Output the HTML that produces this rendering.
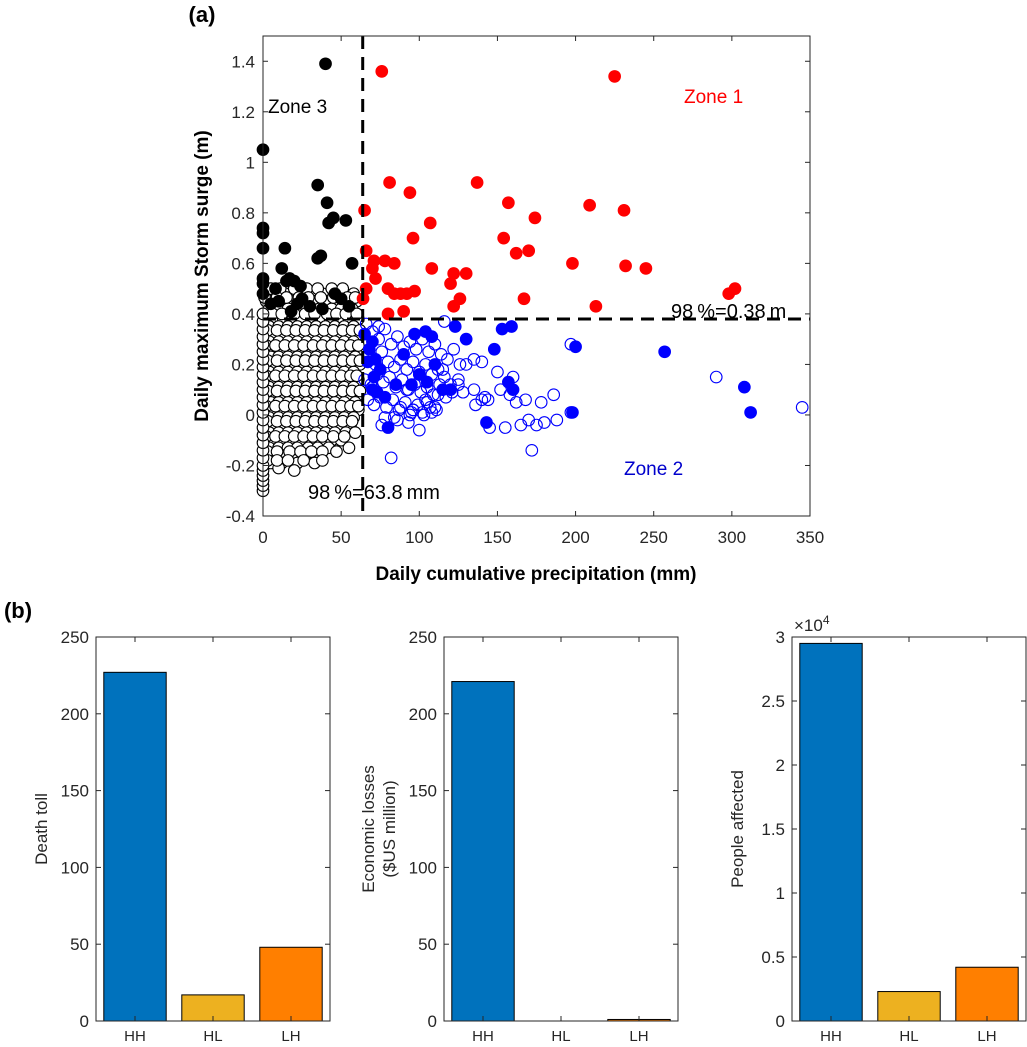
<!DOCTYPE html>
<html><head><meta charset="utf-8"><style>
body{margin:0;background:#fff;}
svg{display:block;font-family:"Liberation Sans",Arial,sans-serif;}
</style></head><body>
<svg id="fig" width="1027" height="1047" viewBox="0 0 1027 1047" xmlns="http://www.w3.org/2000/svg">
<g id="pa"></g>
<g id="pb"></g>
</svg>
<script>
// ---- scatter data ----
const xTicks=[0,50,100,150,200,250,300,350];
const yTicks=[-0.4,-0.2,0,0.2,0.4,0.6,0.8,1,1.2,1.4];
const yTickLabels=['-0.4','-0.2','0','0.2','0.4','0.6','0.8','1','1.2','1.4'];
const precipThreshold=63.8;
const surgeThreshold=0.38;
const redX=[76,225,65,81,94,107,137,157,174,209,231,96,154,170,162,66,71,70,78,84,72,66,80,88,84,92,97,108,122,130,120,198,232,245,126,167,213,122,298,302,80,90,64];
const redY=[1.36,1.34,0.81,0.92,0.88,0.76,0.92,0.84,0.78,0.83,0.81,0.70,0.70,0.65,0.64,0.65,0.61,0.58,0.61,0.60,0.54,0.50,0.50,0.48,0.48,0.48,0.49,0.58,0.56,0.56,0.52,0.60,0.59,0.58,0.46,0.46,0.43,0.43,0.48,0.50,0.40,0.41,0.46];
const blackX=[40,0,0,0,0,35,41,42,45,53,14,0,35,37,15,57,12,17,20,24,0,25,50,55,46,5,10,30,18,0,8,22,38];
const blackY=[1.39,1.05,0.74,0.72,0.66,0.91,0.84,0.76,0.78,0.77,0.66,0.54,0.62,0.63,0.53,0.60,0.58,0.54,0.53,0.51,0.48,0.46,0.46,0.43,0.48,0.44,0.45,0.43,0.41,0.52,0.50,0.44,0.42];
const blueFX=[65,68,70,72,75,70,73,78,90,97,104,108,123,130,153,159,100,105,110,115,120,148,200,257,157,160,80,143,198,308,312,85,95,67,71];
const blueFY=[0.32,0.26,0.29,0.22,0.18,0.10,0.09,0.07,0.24,0.32,0.33,0.31,0.35,0.30,0.34,0.35,0.16,0.13,0.20,0.10,0.10,0.26,0.27,0.25,0.13,0.10,-0.05,-0.03,0.01,0.11,0.01,0.12,0.12,0.21,0.15];
const blueOX=[172,197,290,345,82,197,186,178,168,165,
155,145,140,135,130,125,135,150,140,175,
188,100,93,110,105,170,162,66,70,74,
78,82,86,90,94,98,102,106,110,114,
118,122,126,68,72,76,80,84,88,92,
96,100,104,108,112,116,65,69,73,77,
81,85,89,93,97,101,105,109,113,117,
121,67,71,75,79,83,87,91,95,99,
103,107,111,78,86,94,102,88,96,104,
112,120,128,136,144,152,160,115,125,142,
158,180,76,84,92,108,116,70,74,96];
const blueOY=[-0.14,0.28,0.15,0.03,-0.17,0.01,0.08,0.05,0.06,-0.04,
-0.05,-0.05,0.06,0.10,0.20,0.14,0.22,0.17,0.21,-0.04,
-0.02,-0.06,-0.03,0.03,0.05,-0.02,0.05,0.36,0.33,0.30,
0.34,0.28,0.31,0.27,0.29,0.26,0.30,0.25,0.28,0.24,
0.22,0.26,0.20,0.24,0.20,0.25,0.21,0.19,0.22,0.18,
0.21,0.17,0.20,0.16,0.18,0.15,0.14,0.12,0.16,0.13,
0.15,0.11,0.14,0.10,0.12,0.09,0.11,0.08,0.12,0.07,
0.09,0.06,0.04,0.07,0.03,0.06,0.02,0.05,0.01,0.04,
0.00,0.03,0.02,-0.01,-0.02,0.00,0.01,0.03,0.02,0.06,
0.08,0.12,0.09,0.04,0.06,0.10,0.15,0.18,0.12,0.07,
0.08,-0.03,-0.04,-0.01,0.10,0.01,0.37,0.11,0.35,0.02];
// white cloud, typed row by row: surge value and precipitation values
const cloudRowY=[0.48,0.45,0.42,0.38,0.35,0.32,0.29,0.26,0.23,0.20,0.17,0.14,0.11,0.08,0.05,0.02,-0.01,-0.04,-0.07,-0.10,-0.13,-0.16,-0.19,-0.21];
const cloudRowX=[
[3,8,14,22,30,38,46,52,58],
[2,6,12,18,26,33,40,48,55,60],
[4,10,16,24,30,36,44,50,57],
[2,7,13,19,25,31,37,43,49,55,61],
[4,10,16,22,28,34,40,46,52,58],
[1,7,13,19,25,31,37,43,49,55,61],
[4,10,16,22,28,34,40,46,52,58],
[2,7,13,19,25,31,37,43,49,55,61],
[5,10,16,22,28,34,40,46,52,59],
[2,7,13,19,25,31,37,43,49,55,62],
[4,10,16,22,28,34,40,46,52,58],
[1,7,13,19,25,31,37,43,49,55,61],
[4,10,16,22,28,34,40,46,52,58],
[2,7,13,19,25,31,37,43,49,55,61],
[5,10,16,22,28,34,40,46,52,59],
[2,7,13,19,25,31,37,43,49,55,61],
[4,10,16,22,28,34,40,46,52,58],
[1,7,13,19,25,31,37,43,49,56],
[4,10,16,22,28,34,40,46,53,59],
[2,7,13,19,25,31,37,44,50],
[4,10,16,22,29,35,42,55],
[2,8,14,20,27,35],
[5,12,22,33],
[10]];
const cloudRow2Y=[0.50,0.465,0.40,0.335,0.275,0.215,0.155,0.095,0.035,-0.025,-0.085,-0.145,-0.18,-0.22];
const cloudRow2X=[
[5,11,20,28,35,44,51],
[1,9,15,23,29,37,45,54,59],
[6,12,20,27,33,41,47,53,60],
[3,9,15,21,27,33,39,45,51,57,62],
[2,8,14,20,26,32,38,44,50,56,61],
[3,9,15,21,27,33,39,45,51,57,62],
[2,8,14,20,26,32,38,44,50,56,60],
[3,9,15,21,27,33,39,45,51,57,62],
[2,8,14,20,26,32,38,44,50,56,61],
[3,9,15,21,27,33,39,45,51,57],
[2,8,14,20,26,32,38,45,52],
[3,9,17,24,31,38,47],
[3,9,16,26,38],
[20]];
const zeroColY=[-0.30,-0.28,-0.26,-0.24,-0.22,-0.20,-0.17,-0.14,-0.11,-0.08,-0.05,-0.02,0.01,0.04,0.07,0.10,0.13,0.16,0.19,0.22,0.25,0.28,0.31,0.34,0.37,0.40];
// ---- bar data ----
const barCats=['HH','HL','LH'];
const deathToll=[227,17,48];
const econLoss=[221,0,1];
const peopleAffected=[2.95,0.23,0.42]; // x10^4
const deathTicks=[0,50,100,150,200,250];
const econTicks=[0,50,100,150,200,250];
const peopleTicks=[0,0.5,1,1.5,2,2.5,3];
const peopleTickLabels=['0','0.5','1','1.5','2','2.5','3'];
const barColors=['#0072BD','#EDB120','#FF7F00'];

const NS='http://www.w3.org/2000/svg';
function mk(parent,tag,attrs,text){const e=document.createElementNS(NS,tag);for(const k in attrs)e.setAttribute(k,attrs[k]);if(text!==undefined)e.textContent=text;parent.appendChild(e);return e;}

const pa=document.getElementById('pa');
const X0=263,X1=810,Y0=36,Y1=516;
const sx=v=>X0+(v/350)*(X1-X0);
const sy=v=>Y1-((v+0.4)/1.9)*(Y1-Y0);
let e;
function dot(x,y,fill,stroke,name){
  e=mk(pa,'circle',{cx:sx(x),cy:sy(y),r:5.8,fill:fill,stroke:stroke,'stroke-width':1.1});
  
  
}
cloudRowY.forEach((y,i)=>cloudRowX[i].forEach(x=>dot(x,y,'#fff','#000','below-threshold-point')));
cloudRow2Y.forEach((y,i)=>cloudRow2X[i].forEach(x=>dot(x,y,'#fff','#000','below-threshold-point')));
zeroColY.forEach(y=>dot(0,y,'#fff','#000','below-threshold-point'));
blackX.forEach((x,i)=>dot(x,blackY[i],'#000','#000','zone3-point'));
const nBlue=Math.min(blueOX.length,blueOY.length);
for(let i=0;i<nBlue;i++)dot(blueOX[i],blueOY[i],'none','#0000FF','zone2-open-point');
blueFX.forEach((x,i)=>dot(x,blueFY[i],'#0000FF','#0000FF','zone2-point'));
redX.forEach((x,i)=>dot(x,redY[i],'#FF0000','#FF0000','zone1-point'));
e=mk(pa,'line',{x1:sx(precipThreshold),x2:sx(precipThreshold),y1:Y0,y2:Y1,stroke:'#000','stroke-width':3,'stroke-dasharray':'13,8'});

e=mk(pa,'line',{x1:X0,x2:X1,y1:sy(surgeThreshold),y2:sy(surgeThreshold),stroke:'#000','stroke-width':3,'stroke-dasharray':'13,8'});

e=mk(pa,'rect',{x:X0,y:Y0,width:X1-X0,height:Y1-Y0,fill:'none',stroke:'#262626','stroke-width':1});

xTicks.forEach(t=>{
  mk(pa,'line',{x1:sx(t),x2:sx(t),y1:Y1,y2:Y1-5,stroke:'#262626'});
  mk(pa,'line',{x1:sx(t),x2:sx(t),y1:Y0,y2:Y0+5,stroke:'#262626'});
  e=mk(pa,'text',{x:sx(t),y:Y1+27,'text-anchor':'middle','font-size':17,fill:'#262626'},String(t));
  
});
yTicks.forEach((t,i)=>{
  mk(pa,'line',{x1:X0,x2:X0+5,y1:sy(t),y2:sy(t),stroke:'#262626'});
  mk(pa,'line',{x1:X1,x2:X1-5,y1:sy(t),y2:sy(t),stroke:'#262626'});
  e=mk(pa,'text',{x:X0-8,y:sy(t)+6,'text-anchor':'end','font-size':17,fill:'#262626'},yTickLabels[i]);
  
});
function lbl(x,y,txt,name,attrs){const a=Object.assign({x:x,y:y},attrs);e=mk(pa,'text',a,txt);}
lbl(536,580,'Daily cumulative precipitation (mm)','x-axis-title',{'text-anchor':'middle','font-size':19,'font-weight':'bold'});
lbl(0,0,'Daily maximum Storm surge (m)','y-axis-title',{'text-anchor':'middle','font-size':19,'font-weight':'bold',transform:'translate(208,276) rotate(-90)'});
lbl(202,22,'(a)','panel-a-label',{'text-anchor':'middle','font-size':22,'font-weight':'bold'});
lbl(268,113,'Zone 3','zone3-label',{'font-size':19});
lbl(684,103,'Zone 1','zone1-label',{'font-size':19,fill:'#FF0000'});
lbl(624,475,'Zone 2','zone2-label',{'font-size':19,fill:'#0000CC'});
lbl(671,318,'98\u2009%=0.38\u2009m','surge-threshold-label',{'font-size':20});
lbl(308,499,'98\u2009%=63.8\u2009mm','precip-threshold-label',{'font-size':20});

const pb=document.getElementById('pb');
e=mk(pb,'text',{x:18,y:618,'text-anchor':'middle','font-size':22,'font-weight':'bold'},'(b)');

function barChart(left,vals,ticks,tlabels,ymax,title,name,exp){
  const g=mk(pb,'g',{});
  
  const T=637,B=1021,W=234;
  const cx=i=>left+W/6+i*W/3;
  const by=v=>B-(v/ymax)*(B-T);
  vals.forEach((v,i)=>{
    const r=mk(g,'rect',{x:cx(i)-0.4*W/3,y:by(v),width:0.8*W/3,height:B-by(v),fill:barColors[i],stroke:'#000','stroke-width':1});
    
    
  });
  mk(g,'rect',{x:left,y:T,width:W,height:B-T,fill:'none',stroke:'#262626','stroke-width':1});
  ticks.forEach((t,i)=>{
    mk(g,'line',{x1:left,x2:left+5,y1:by(t),y2:by(t),stroke:'#262626'});
    mk(g,'line',{x1:left+W,x2:left+W-5,y1:by(t),y2:by(t),stroke:'#262626'});
    const tt=mk(g,'text',{x:left-7,y:by(t)+6,'text-anchor':'end','font-size':17,fill:'#262626'},tlabels[i]);
    
  });
  barCats.forEach((c,i)=>{
    mk(g,'line',{x1:cx(i),x2:cx(i),y1:B,y2:B-5,stroke:'#262626'});
    mk(g,'line',{x1:cx(i),x2:cx(i),y1:T,y2:T+5,stroke:'#262626'});
    const tt=mk(g,'text',{x:cx(i),y:B+20,'text-anchor':'middle','font-size':15,fill:'#262626'},c);
    
  });
  title.forEach((ln,j)=>{
    const tt=mk(g,'text',{x:0,y:0,'text-anchor':'middle','font-size':17,fill:'#262626',transform:'translate('+(left-49+j*21-(title.length-1)*21)+','+((T+B)/2)+') rotate(-90)'},ln);
    
  });
  if(exp){
    const tt=mk(g,'text',{x:left+2,y:T-6,'font-size':17,fill:'#262626'},'\u00d710');
    mk(tt,'tspan',{dy:-7,'font-size':12},'4');
    
  }
}
barChart(96,deathToll,deathTicks,deathTicks.map(String),250,['Death toll'],'death-toll-chart',false);
barChart(444,econLoss,econTicks,econTicks.map(String),250,['Economic losses','($US million)'],'economic-losses-chart',false);
barChart(792,peopleAffected,peopleTicks,peopleTickLabels,3,['People affected'],'people-affected-chart',true);
</script>
</body></html>
